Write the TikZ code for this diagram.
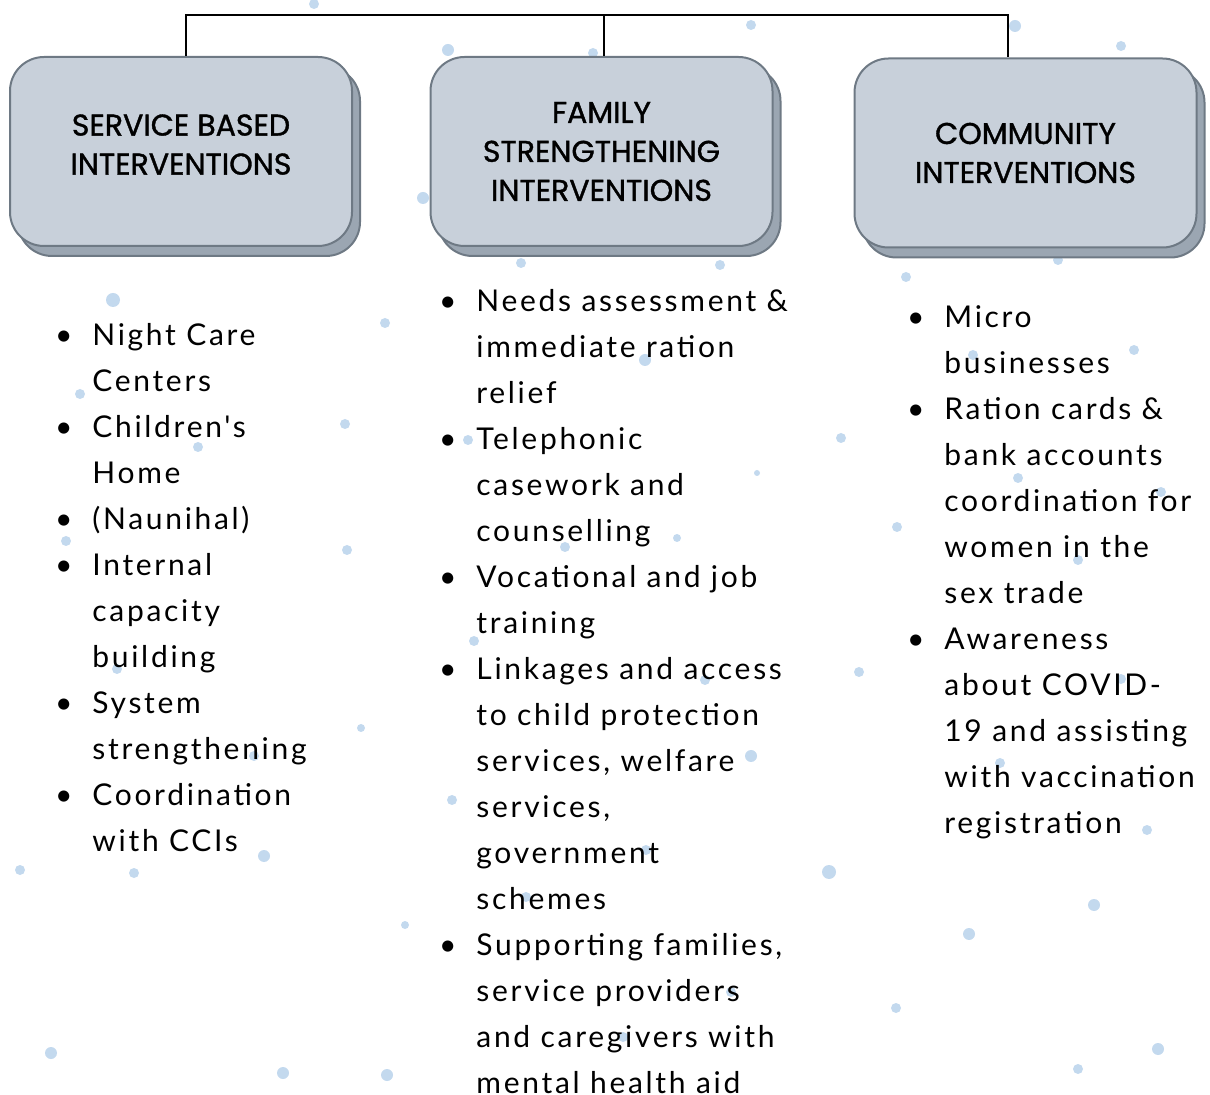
\documentclass[tikz,border=0pt]{standalone}
\usepackage{fontspec}
\usetikzlibrary{shadows}
\setmainfont{Lato}
\newfontfamily\headfont{Poppins}[FakeBold=1.2]
\newfontfamily\listfont{Lato}[LetterSpace=9]
\definecolor{boxfill}{HTML}{C8D0DA}
\definecolor{boxshade}{HTML}{9BA6B2}
\definecolor{boxline}{HTML}{6E7984}
\definecolor{dotblue}{HTML}{C3D9EE}
\newcommand\itm{\strut\llap{\textbullet\hspace{10pt}}}

\begin{document}
\begin{tikzpicture}[x=0.5pt,y=-0.5pt,
  headbox/.style={rectangle,rounded corners=17pt,draw=boxline,line width=1pt,fill=boxfill,
    minimum width=171pt,minimum height=94.5pt,align=center,inner sep=0pt,
    font=\headfont\fontsize{15}{19.5}\selectfont,
    copy shadow={shadow xshift=4pt,shadow yshift=-5pt,fill=boxshade,draw=boxline,line width=1pt}},
  listtext/.style={anchor=north west,align=left,inner sep=0pt,font=\listfont\fontsize{15}{23}\selectfont},
  link/.style={line width=1pt,black}]
  \useasboundingbox (0,0) rectangle (1210,1095);

  % background dots
  \foreach \dx/\dy/\dr in {314/4/5,751/25/5,1015/26/6,1121/46/5,448/50/6,593/53/5,423/198/6,
      521/263/5,720/265/5,1058/260/5,906/277/5,113/300/7,385/323/5,80/394/5,198/447/5,345/424/5,
      468/440/5,757/473/3,841/438/5,677/538/4,565/547/5,645/360/6,973/355/5,1134/350/5,1018/478/5,
      1161/492/5,897/527/5,1078/560/5,66/541/5,347/550/5,474/641/5,859/672/5,705/680/5,117/669/5,
      361/728/4,254/756/5,751/756/6,452/800/5,20/870/5,134/873/5,264/856/6,829/872/7,646/850/5,
      526/897/5,1121/679/5,1000/763/5,1147/830/5,1094/905/6,969/934/6,405/925/4,731/992/5,
      623/1037/5,896/1008/5,51/1053/6,283/1073/6,387/1075/6,1158/1049/6,1078/1069/5}
    \fill[dotblue] (\dx,\dy) circle[radius=\dr];

  % heading boxes
  \node[headbox] (svc) at (181,151.5) {SERVICE BASED\\INTERVENTIONS\\[-12.5pt]};
  \node[headbox] (fam) at (601.5,151.5) {FAMILY\\STRENGTHENING\\INTERVENTIONS};
  \node[headbox] (com) at (1025.5,153) {COMMUNITY\\INTERVENTIONS};

  % top connector
  \coordinate (svctop) at (186,15);
  \coordinate (famtop) at (604,15);
  \coordinate (comtop) at (1008,15);
  \draw[link] (svctop |- svc.north) -- (svctop) -- (comtop) -- (comtop |- com.north);
  \draw[link] (famtop) -- (famtop |- fam.north);

  % lists (top = first baseline - strut height)
  \node[listtext] (svclist) at (92,312.8) {\itm Night Care\\Centers\\\itm Children's\\Home\\
    \itm (Naunihal)\\\itm Internal\\capacity\\building\\\itm System\\strengthening\\
    \itm Coordination\\with CCIs};
  \node[listtext] (famlist) at (476,278.8) {\itm Needs assessment \&\\immediate ration\\relief\\
    \itm Telephonic\\casework and\\counselling\\\itm Vocational and job\\training\\
    \itm Linkages and access\\to child protection\\services, welfare\\services,\\government\\schemes\\
    \itm Supporting families,\\service providers\\and caregivers with\\mental health aid};
  \node[listtext] (comlist) at (944,294.8) {\itm Micro\\businesses\\\itm Ration cards \&\\bank accounts\\
    coordination for\\women in the\\sex trade\\\itm Awareness\\about COVID-\\19 and assisting\\
    with vaccination\\registration};
\end{tikzpicture}
\end{document}
